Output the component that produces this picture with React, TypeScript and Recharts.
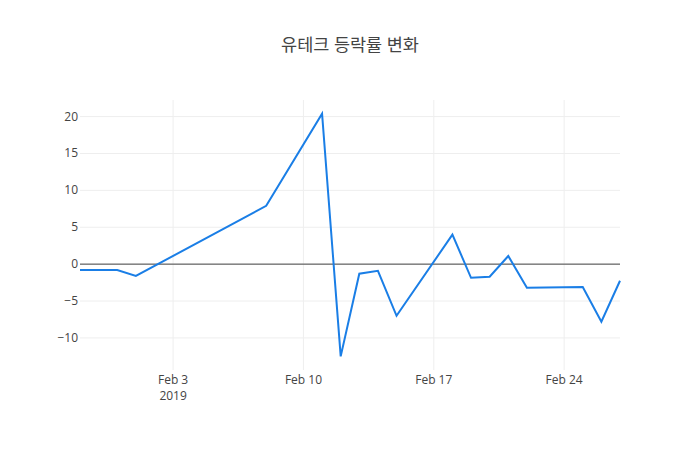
import { CartesianGrid, Line, LineChart, ReferenceLine, XAxis, YAxis } from 'recharts'

const dates = [
  '2019-01-29', '2019-01-31', '2019-02-01', '2019-02-08', '2019-02-11', '2019-02-12',
  '2019-02-13', '2019-02-14', '2019-02-15', '2019-02-18', '2019-02-19', '2019-02-20',
  '2019-02-21', '2019-02-22', '2019-02-25', '2019-02-26', '2019-02-27',
]
const changes = [
  -0.8, -0.8, -1.6, 7.9, 20.4, -12.5,
  -1.3, -0.9, -7.0, 4.0, -1.85, -1.7,
  1.1, -3.2, -3.1, -7.8, -2.25,
]
const xTicks = ['2019-02-03', '2019-02-10', '2019-02-17', '2019-02-24']
const yTicks = [-10, -5, 0, 5, 10, 15, 20]

const ts = (d: string) => Date.parse(d + 'T00:00:00Z')
const data = dates.map((d, i) => ({ t: ts(d), v: changes[i] }))

const FONT = '"Open Sans", "Noto Sans CJK KR", sans-serif'
const MONTHS = ['Jan', 'Feb', 'Mar', 'Apr', 'May', 'Jun', 'Jul', 'Aug', 'Sep', 'Oct', 'Nov', 'Dec']

function XTick({ x, y, payload, index }: any) {
  const d = new Date(payload.value)
  const label = `${MONTHS[d.getUTCMonth()]} ${d.getUTCDate()}`
  return (
    <g>
      <text x={x} y={y + 14} textAnchor="middle" fill="#444" fontSize={12} fontFamily={FONT}>
        {label}
      </text>
      {index === 0 && (
        <text x={x} y={y + 30} textAnchor="middle" fill="#444" fontSize={12} fontFamily={FONT}>
          {d.getUTCFullYear()}
        </text>
      )}
    </g>
  )
}

function YTick({ x, y, payload }: any) {
  const v = payload.value
  return (
    <text x={x} y={y} dy={4} textAnchor="end" fill="#444" fontSize={12} fontFamily={FONT}>
      {v < 0 ? `\u2212${Math.abs(v)}` : v}
    </text>
  )
}

export default function App() {
  return (
    <div style={{ position: 'absolute', left: 0, top: 0, width: 700, height: 450, background: '#fff' }}>
      <div
        style={{
          position: 'absolute', top: 34, left: 0, width: 700, textAlign: 'center',
          fontFamily: FONT, fontSize: 17.5, lineHeight: '20px', color: '#444',
        }}
      >
        유테크 등락률 변화
      </div>
      <LineChart width={700} height={450} data={data} margin={{ top: 100, right: 80, bottom: 0, left: 0 }}>
        <CartesianGrid stroke="#eee" strokeWidth={1} syncWithTicks />
        <XAxis
          dataKey="t"
          type="number"
          scale="time"
          domain={[ts(dates[0]), ts(dates[dates.length - 1])]}
          ticks={xTicks.map(ts)}
          tick={<XTick />}
          tickLine={false}
          axisLine={false}
          height={80}
          tickSize={0}
          tickMargin={0}
        />
        <YAxis
          type="number"
          domain={[-14.35, 22.25]}
          ticks={yTicks}
          allowDataOverflow
          tick={<YTick />}
          tickLine={false}
          axisLine={false}
          width={80}
          tickSize={0}
          tickMargin={2}
        />
        <ReferenceLine y={0} stroke="#444" strokeWidth={1} />
        <Line
          dataKey="v"
          type="linear"
          stroke="#1a7ee6"
          strokeWidth={2}
          dot={false}
          isAnimationActive={false}
        />
      </LineChart>
    </div>
  )
}
